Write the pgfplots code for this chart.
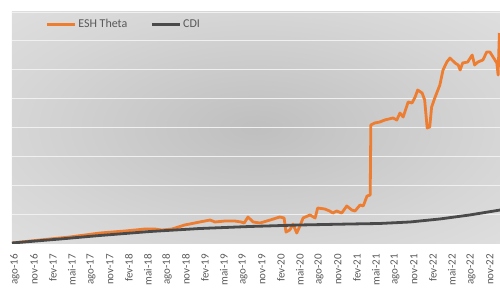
\documentclass[border=0pt]{standalone}
\usepackage{pgfplots}
\pgfplotsset{compat=1.18}
\usepackage{fontspec}
\setmainfont{Carlito}
\definecolor{eshorange}{HTML}{ED7D31}
\definecolor{cdigray}{HTML}{4A4A4A}
\definecolor{ticktext}{HTML}{595959}
\definecolor{bgin}{HTML}{BFBFBF}
\definecolor{bgmid}{HTML}{D6D6D6}
\definecolor{bgout}{HTML}{E9E9E9}
\definecolor{bgcorner}{HTML}{EEEEEE}
\pgfdeclareradialshading{bgshade}{\pgfpoint{0bp}{0bp}}{color(0bp)=(bgin); color(25bp)=(bgmid); color(50bp)=(bgout); color(72bp)=(bgcorner)}
\begin{document}
\begin{tikzpicture}
\begin{axis}[
  name=ax,
  scale only axis,
  width=488pt, height=231pt,
  xmin=-0.47, xmax=76.6,
  ymin=0, ymax=400,
  axis line style={draw=none},
  tick style={draw=none},
  axis background/.style={shade, shading=bgshade},
  ytick={50,100,...,400},
  yticklabels={},
  ymajorgrids,
  major grid style={color=white!88!gray, line width=0.9pt},
  xtick={0,3,...,75},
  xticklabels={ago-16,nov-16,fev-17,mai-17,ago-17,nov-17,fev-18,mai-18,ago-18,nov-18,fev-19,mai-19,ago-19,nov-19,fev-20,mai-20,ago-20,nov-20,fev-21,mai-21,ago-21,nov-21,fev-22,mai-22,ago-22,nov-22},
  xticklabel style={rotate=90, anchor=east, xshift=-10pt, font=\fontsize{11}{13}\selectfont, text=ticktext, inner sep=1pt},
  legend style={draw=none, fill=none, at={(axis description cs:0.062,0.985)}, anchor=north west, font=\fontsize{12}{14}\selectfont, text=ticktext},
  legend columns=2,
  legend cell align=left,
  legend image code/.code={\draw[#1] (0pt,0pt) -- (28pt,0pt);},
  /tikz/every even column/.append style={column sep=21pt},
]
\addplot[color=eshorange, line width=2.8pt, line join=round] coordinates {
(-0.47,0) (3.95,5.2) (8.68,10.4) (13.42,17.3) (17.37,20.8) (20.53,24.2) (22.1,24.2) (23.2,22.5) (24.8,24.2)
(26.8,31.2) (29.2,36.4) (30.8,39.8) (31.6,36.4) (33.2,38.1) (34.7,38.1) (35.7,36.4) (36.2,34.6) (36.8,45.0)
(37.6,36.4) (38.7,34.6) (40.3,39.8) (41.8,45.0) (42.5,43.3) (42.8,19.0) (43.4,22.5) (43.9,32.9) (44.5,17.3)
(45.0,29.4) (45.5,43.3) (46.6,48.5) (47.4,43.3) (47.8,60.6) (48.9,58.9) (49.7,55.4) (50.2,51.9) (50.8,55.4)
(51.6,51.9) (52.4,64.1) (53.2,57.1) (53.7,55.4) (54.5,65.8) (55.0,64.1) (55.6,81.4) (56.1,83.1) (56.2,204.3)
(56.8,207.8) (57.6,209.5) (58.4,213.0) (59.7,216.5) (60.3,213.0) (60.8,225.1) (61.3,218.2) (62.1,244.2)
(62.7,242.4) (63.2,252.8) (63.6,264.9) (64.3,259.7) (64.7,247.6) (65.1,199.1) (65.5,200.9) (65.8,235.5)
(66.3,251.1) (67.1,273.6) (67.6,299.6) (68.2,313.4) (68.7,320.3) (69.5,311.7) (70.0,308.2) (70.3,299.6)
(70.7,311.7) (71.5,313.4) (72.2,325.5) (72.6,308.2) (73.1,313.4) (73.9,316.9) (74.5,330.7) (75.0,330.7)
(75.5,322.1) (76.1,311.7) (76.3,290.9) (76.5,363.6)
};
\addlegendentry{ESH Theta}
\addplot[color=cdigray, line width=2.8pt] coordinates {
(-0.47,0) (7.1,6.9) (13.4,13.0) (21.3,19.9) (29.2,25.1) (37.1,28.6) (45.0,31.2) (52.9,32.9) (57.6,33.8)
(62.4,36.4) (67.1,41.6) (71.8,48.5) (76.6,57.1)
};
\addlegendentry{CDI}
\end{axis}
\pgfresetboundingbox
\path[use as bounding box] ([xshift=-12pt,yshift=-44pt]ax.south west) rectangle ([yshift=12pt]ax.north east);
\end{tikzpicture}
\end{document}
